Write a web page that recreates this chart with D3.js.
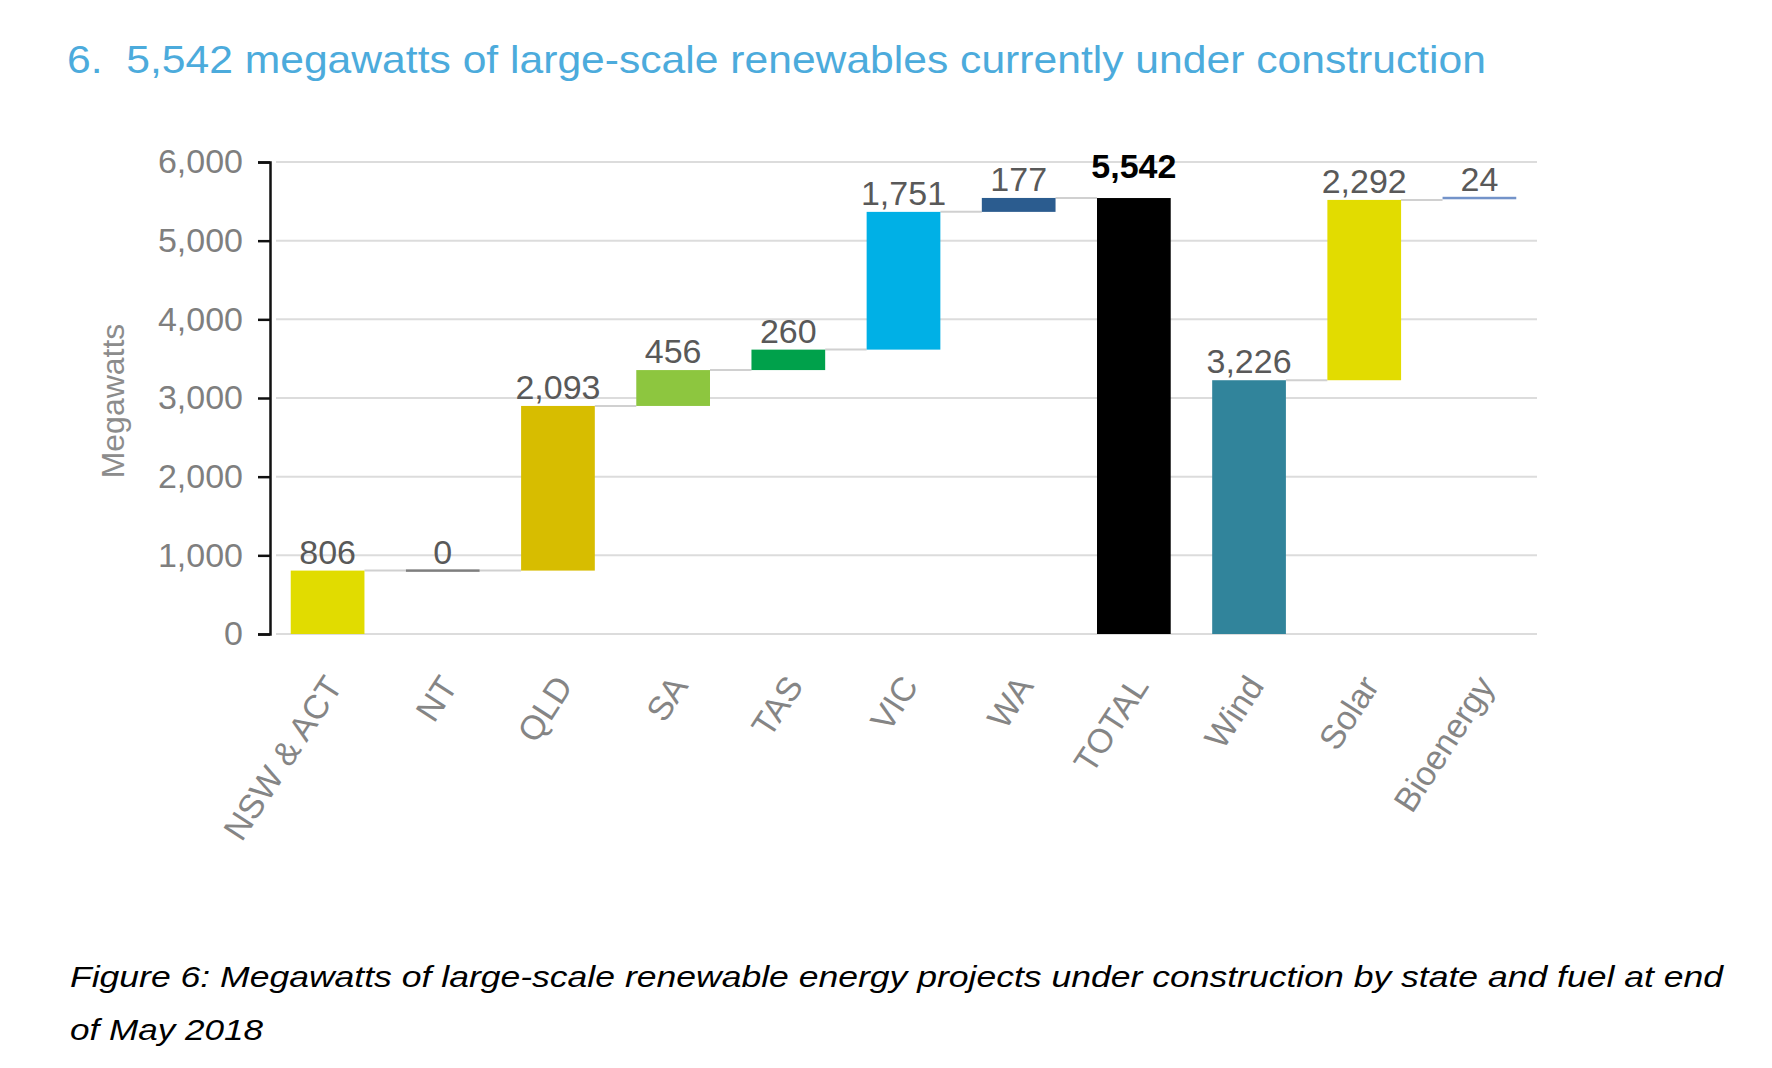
<!DOCTYPE html>
<html>
<head>
<meta charset="utf-8">
<script src="https://cdn.jsdelivr.net/npm/d3@7"></script>
<style>
  body { margin: 0; background: #fff; }
  svg { display: block; font-family: "Liberation Sans", Arial, sans-serif; }
</style>
</head>
<body>
<div id="chart"></div>
<script>
// values
const categories = ["NSW & ACT", "NT", "QLD", "SA", "TAS", "VIC", "WA", "TOTAL", "Wind", "Solar", "Bioenergy"];
const values = [806, 0, 2093, 456, 260, 1751, 177, 5542, 3226, 2292, 24];
const kinds = ["step", "step", "step", "step", "step", "step", "step", "total", "step", "step", "step"];
const barColors = ["#e1dc00", "#7f7f7f", "#d7bd00", "#8dc63f", "#00a14b", "#00b0e6", "#2b5c8f", "#000000", "#31849b", "#e2dc00", "#7393c9"];
const yTicks = [0, 1000, 2000, 3000, 4000, 5000, 6000];

const width = 1772, height = 1068;
const plotLeft = 270, plotRight = 1537, plotTop = 162, plotBottom = 634;

const svg = d3.select('#chart').append('svg')
    .attr('width', width)
    .attr('height', height);

svg.append('rect').attr('width', width).attr('height', height).attr('fill', '#fff');

// title + caption (text in the picture is a bit wider than the font, so stretch it)
svg.append('text')
    .attr('x', 67).attr('y', 73)
    .attr('font-size', 39)
    .attr('fill', '#4cabdc')
    .attr('xml:space', 'preserve')
    .attr('textLength', 1419)
    .attr('lengthAdjust', 'spacingAndGlyphs')
    .text('6.  5,542 megawatts of large-scale renewables currently under construction');

const caption = ['Figure 6: Megawatts of large-scale renewable energy projects under construction by state and fuel at end', 'of May 2018'];
const captionWidths = [1653, 193];
svg.append('g').selectAll('text')
    .data(caption)
    .enter()
    .append('text')
    .attr('x', 70)
    .attr('y', (d, i) => 987 + i * 53)
    .attr('font-size', 30)
    .attr('font-style', 'italic')
    .attr('fill', '#000')
    .attr('textLength', (d, i) => captionWidths[i])
    .attr('lengthAdjust', 'spacingAndGlyphs')
    .text(d => d);

// running totals, reset after the total bar
let running = 0;
const bars = categories.map((c, i) => {
    let base, end;
    if (kinds[i] === 'total') {
        base = 0; end = values[i]; running = 0;
    } else {
        base = running; end = running + values[i]; running = end;
    }
    return { cat: c, value: values[i], base: base, end: end, kind: kinds[i], color: barColors[i] };
});

const x = d3.scaleBand()
    .domain(categories)
    .range([plotLeft, plotRight])
    .paddingInner(0.36)
    .paddingOuter(0.18);

const y = d3.scaleLinear()
    .domain([0, 6000])
    .range([plotBottom, plotTop]);

// grid
svg.append('g')
    .selectAll('line')
    .data(yTicks)
    .enter()
    .append('line')
    .attr('x1', plotLeft + 6).attr('x2', plotRight)
    .attr('y1', d => y(d)).attr('y2', d => y(d))
    .attr('stroke', '#dcdcdc')
    .attr('stroke-width', 2);

// y axis
const yAxis = d3.axisLeft(y)
    .tickValues(yTicks)
    .tickSize(12)
    .tickPadding(15)
    .tickFormat(d3.format(','));

const yG = svg.append('g')
    .attr('transform', `translate(${plotLeft}, 0)`)
    .call(yAxis);
yG.select('.domain').attr('stroke', '#111').attr('stroke-width', 2.5);
yG.selectAll('.tick line').attr('stroke', '#111').attr('stroke-width', 2.5);
yG.selectAll('.tick text')
    .attr('font-family', '"Liberation Sans", Arial, sans-serif')
    .attr('font-size', 34)
    .attr('fill', '#7f7f7f');

svg.append('text')
    .attr('transform', `translate(113, ${(plotTop + plotBottom) / 2 + 3}) rotate(-90)`)
    .attr('text-anchor', 'middle')
    .attr('dy', '0.35em')
    .attr('font-size', 32)
    .attr('fill', '#8c8c8c')
    .text('Megawatts');

// connectors between consecutive bars
const links = bars.slice(0, -1)
    .map((b, i) => ({ from: b, to: bars[i + 1] }))
    .filter(l => l.from.kind !== 'total');

svg.append('g')
    .selectAll('line')
    .data(links)
    .enter()
    .append('line')
    .attr('x1', d => x(d.from.cat) + x.bandwidth())
    .attr('x2', d => x(d.to.cat))
    .attr('y1', d => y(d.from.end))
    .attr('y2', d => y(d.from.end))
    .attr('stroke', '#d0d0d0')
    .attr('stroke-width', 2);

// bars
svg.append('g')
    .selectAll('rect')
    .data(bars)
    .enter()
    .append('rect')
    .attr('x', d => x(d.cat))
    .attr('width', x.bandwidth())
    .attr('y', d => {
        const h = y(d.base) - y(d.end);
        return h < 2.5 ? y(d.end) - 1.25 : y(d.end);
    })
    .attr('height', d => Math.max(y(d.base) - y(d.end), 2.5))
    .attr('fill', d => d.color);

// value labels
svg.append('g')
    .selectAll('text')
    .data(bars)
    .enter()
    .append('text')
    .attr('x', d => x(d.cat) + x.bandwidth() / 2)
    .attr('y', d => y(d.end) - (d.kind === 'total' ? 20 : 7))
    .attr('text-anchor', 'middle')
    .attr('font-size', 34)
    .attr('font-weight', d => d.kind === 'total' ? 'bold' : 'normal')
    .attr('fill', d => d.kind === 'total' ? '#000' : '#595959')
    .text(d => d3.format(',')(d.value));

// category labels
svg.append('g')
    .selectAll('text')
    .data(categories)
    .enter()
    .append('text')
    .attr('transform', d => `translate(${x(d) + x.bandwidth() / 2 + 16}, 686) rotate(-57)`)
    .attr('text-anchor', 'end')
    .attr('font-size', 34)
    .attr('fill', '#858585')
    .text(d => d);
</script>
</body>
</html>
